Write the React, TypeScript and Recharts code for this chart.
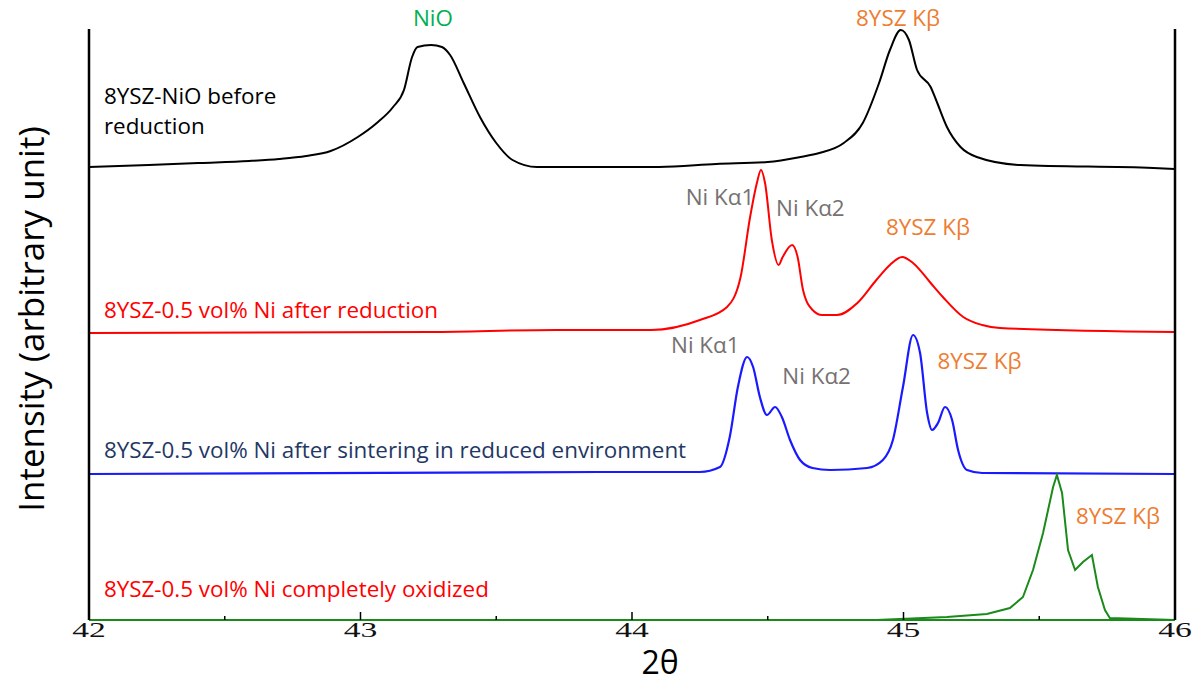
import React from 'react';
import { LineChart, Line, XAxis, YAxis, ReferenceDot } from 'recharts';

// 2θ / intensity (arbitrary units, traces already stacked)
const beforeReduction: [number, number][] = [
  [42.0, 453], [42.22, 455], [42.41, 457], [42.59, 459], [42.7, 461], [42.8, 464], [42.89, 469],
  [42.99, 483], [43.06, 497], [43.12, 513], [43.16, 530], [43.19, 563], [43.21, 573],
  [43.26, 575], [43.3, 573], [43.33, 565], [43.38, 537], [43.44, 503], [43.5, 477],
  [43.56, 460], [43.65, 453], [43.99, 453], [44.1, 453], [44.31, 456], [44.5, 458],
  [44.62, 463], [44.69, 467], [44.78, 477], [44.85, 497], [44.91, 537], [44.95, 570],
  [44.99, 590], [45.02, 580], [45.05, 550], [45.1, 533], [45.12, 520], [45.16, 493],
  [45.21, 473], [45.27, 463], [45.43, 455], [45.92, 452], [46.0, 451],
];

const afterReduction: [number, number][] = [
  [42.0, 287], [43.26, 288], [43.72, 290], [44.07, 290], [44.25, 300], [44.35, 313],
  [44.4, 343], [44.435, 403], [44.46, 437], [44.475, 450], [44.49, 437], [44.515, 380],
  [44.54, 355], [44.555, 363], [44.59, 375], [44.61, 363], [44.63, 330], [44.665, 310],
  [44.7, 305], [44.755, 305], [44.83, 317], [44.9, 340], [44.95, 355], [44.995, 363],
  [45.035, 357], [45.1, 337], [45.145, 323], [45.22, 303], [45.29, 295], [45.355, 292],
  [46.0, 288],
];

const afterSintering: [number, number][] = [
  [42.0, 146], [43.88, 148], [44.25, 148], [44.324, 153], [44.36, 183], [44.39, 233],
  [44.424, 263], [44.446, 253], [44.471, 223], [44.497, 205], [44.527, 213], [44.552, 203],
  [44.582, 180], [44.619, 160], [44.665, 152], [44.73, 150], [44.866, 152], [44.924, 160],
  [44.961, 180], [44.998, 233], [45.035, 285], [45.061, 267], [45.087, 207], [45.105, 190],
  [45.127, 197], [45.153, 213], [45.179, 200], [45.201, 170], [45.234, 150], [45.29, 147],
  [46.0, 146],
];

const oxidized: [number, number][] = [
  [42.0, 0], [44.9, 0], [45.16, 3], [45.307, 6], [45.392, 12], [45.44, 23], [45.477, 50],
  [45.514, 87], [45.551, 133], [45.565, 145], [45.584, 127], [45.606, 70], [45.632, 50],
  [45.661, 58], [45.694, 65], [45.716, 33], [45.742, 10], [45.76, 2], [46.0, 0],
];

const xTicks = [42, 42.5, 43, 43.5, 44, 44.5, 45, 45.5, 46];

// annotation text: [label, 2θ, intensity, colour, anchor]
const peakLabels: [string, number, number, string, 'center' | 'right'][] = [
  ['NiO', 43.267, 602, '#00b050', 'center'],
  ['8YSZ Kβ', 44.98, 602, '#ed7d31', 'center'],
  ['Ni Kα1', 44.324, 423, '#767171', 'center'],
  ['Ni Kα2', 44.657, 412, '#767171', 'center'],
  ['8YSZ Kβ', 45.09, 393, '#ed7d31', 'center'],
  ['Ni Kα1', 44.27, 275, '#767171', 'center'],
  ['Ni Kα2', 44.68, 244, '#767171', 'center'],
  ['8YSZ Kβ', 45.28, 259, '#ed7d31', 'center'],
  ['8YSZ Kβ', 45.79, 104, '#ed7d31', 'center'],
];

const sampleLabels: [string, number, number, string, 'center' | 'right'][] = [
  ['8YSZ-NiO before', 42.055, 524, '#000000', 'right'],
  ['reduction', 42.055, 494, '#000000', 'right'],
  ['8YSZ-0.5 vol% Ni after reduction', 42.055, 310, '#ff0000', 'right'],
  ['8YSZ-0.5 vol% Ni after sintering in reduced environment', 42.055, 170, '#1f3864', 'right'],
  ['8YSZ-0.5 vol% Ni completely oxidized', 42.055, 31, '#ff0000', 'right'],
];

const toPoints = (arr: [number, number][]) => arr.map(([x, y]) => ({ x, y }));

const FONT = '"Open Sans", sans-serif';

function AxisTick(props: any) {
  const { x, y, payload } = props;
  const major = Number.isInteger(payload.value);
  return (
    <g>
      <line x1={x} x2={x} y1={y} y2={y - (major ? 8 : 4)} stroke="#000" strokeWidth={1.5} />
      {major && (
        <text
          transform={`translate(${x},${y + 17}) scale(1.6,1)`}
          textAnchor="middle"
          fontFamily='"Liberation Serif", serif'
          fontSize={21}
          fill="#111"
        >
          {payload.value}
        </text>
      )}
    </g>
  );
}

export default function App() {
  const labels = [...peakLabels, ...sampleLabels];
  return (
    <div style={{ position: 'absolute', left: 0, top: 0, width: 1202, height: 682, background: '#fff' }}>
      <LineChart width={1202} height={682} margin={{ top: 29, right: 26, bottom: 61, left: 88 }}>
        <XAxis
          type="number"
          dataKey="x"
          domain={[42, 46]}
          ticks={xTicks}
          interval={0}
          height={1}
          tickSize={0}
          tickMargin={0}
          tickLine={false}
          tick={<AxisTick />}
          axisLine={{ stroke: '#1a8a1a', strokeWidth: 2 }}
          allowDataOverflow
          label={(p: any) => (
            <text x={660} y={674} textAnchor="middle" fontFamily={FONT} fontSize={32} fill="#000">
              2θ
            </text>
          )}
        />
        <YAxis
          yAxisId="left"
          type="number"
          domain={[0, 591]}
          width={1}
          tick={false}
          tickLine={false}
          axisLine={{ stroke: '#000', strokeWidth: 2.5 }}
          label={(p: any) => (
            <text
              x={30}
              y={319}
              transform="rotate(-90 30 319)"
              textAnchor="middle"
              dominantBaseline="central"
              fontFamily={FONT}
              fontSize={35}
              fill="#000"
            >
              Intensity (arbitrary unit)
            </text>
          )}
        />
        <YAxis
          yAxisId="right"
          orientation="right"
          type="number"
          domain={[0, 591]}
          width={1}
          tick={false}
          tickLine={false}
          axisLine={{ stroke: '#000', strokeWidth: 2.5 }}
        />
        <Line yAxisId="left" data={toPoints(beforeReduction)} dataKey="y" type="monotone" stroke="#000" strokeWidth={2} dot={false} isAnimationActive={false} />
        <Line yAxisId="left" data={toPoints(afterReduction)} dataKey="y" type="monotone" stroke="#ff0000" strokeWidth={2} dot={false} isAnimationActive={false} />
        <Line yAxisId="left" data={toPoints(afterSintering)} dataKey="y" type="monotone" stroke="#1a1aff" strokeWidth={2.2} dot={false} isAnimationActive={false} />
        <Line yAxisId="left" data={toPoints(oxidized)} dataKey="y" type="linear" stroke="#1a8a1a" strokeWidth={2} dot={false} isAnimationActive={false} />
        {labels.map(([text, x, y, color, pos], i) => (
          <ReferenceDot
            key={i}
            yAxisId="left"
            x={x}
            y={y}
            r={0}
            fill="none"
            stroke="none"
            ifOverflow="visible"
            label={{ value: text, position: pos, offset: 0, fill: color, fontSize: 22.4, fontFamily: FONT }}
          />
        ))}
      </LineChart>
    </div>
  );
}
